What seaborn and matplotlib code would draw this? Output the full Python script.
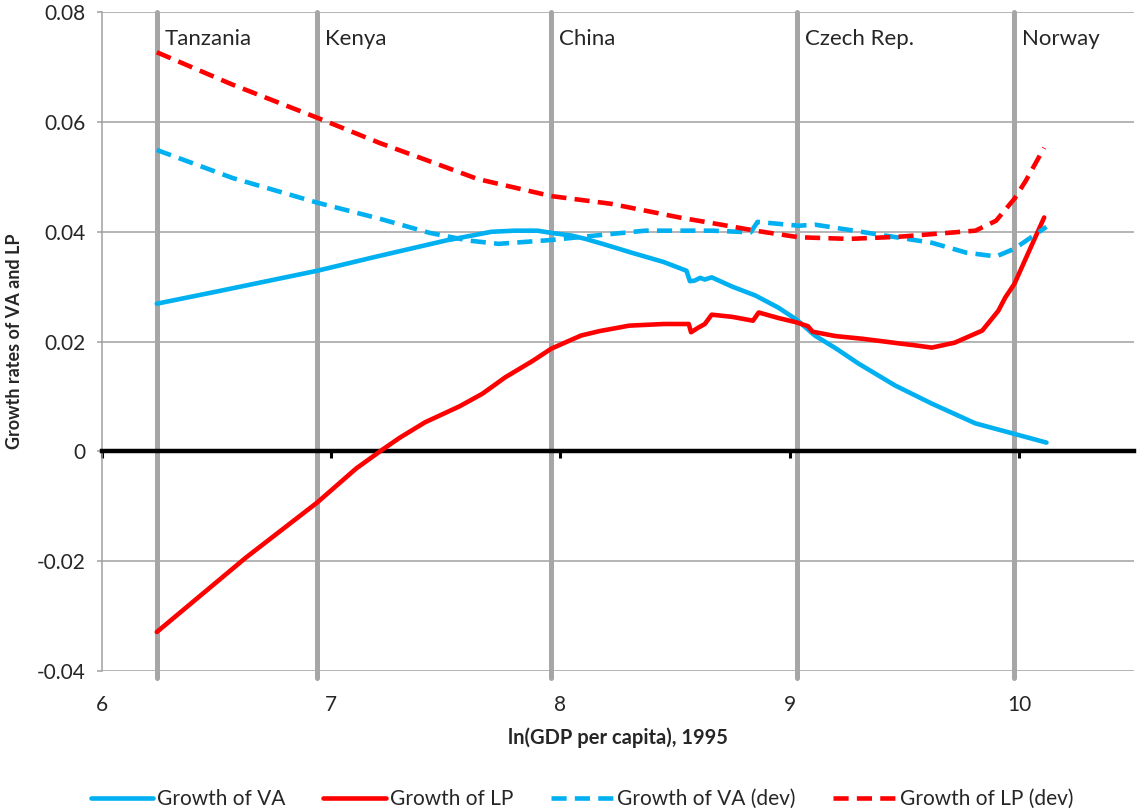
import pandas as pd
import matplotlib.pyplot as plt
import seaborn as sns

# Data
va_x = [6.24, 6.5, 6.94, 7.2, 7.5, 7.7, 7.8, 7.9, 7.96, 8.05, 8.11, 8.2, 8.31, 8.45, 8.55,
        8.565, 8.585, 8.61, 8.63, 8.66, 8.75, 8.85, 8.95, 9.03, 9.11, 9.2, 9.3, 9.46,
        9.62, 9.81, 9.97, 10.12]
va_y = [0.0269, 0.0291, 0.0329, 0.0355, 0.0384, 0.0400, 0.0402, 0.0402, 0.0398, 0.0393,
        0.0387, 0.0376, 0.0362, 0.0345, 0.0329, 0.0310, 0.0311, 0.0316, 0.0313, 0.0317,
        0.0300, 0.0284, 0.0262, 0.0240, 0.0211, 0.0188, 0.0160, 0.0120, 0.0087, 0.0051,
        0.0033, 0.0016]

lp_x = [6.24, 6.63, 6.94, 7.11, 7.22, 7.30, 7.41, 7.56, 7.66, 7.76, 7.88, 7.96, 8.09,
        8.17, 8.3, 8.45, 8.56, 8.57, 8.6, 8.63, 8.66, 8.75, 8.84, 8.865, 8.95, 9.03,
        9.08, 9.1, 9.2, 9.32, 9.49, 9.55, 9.62, 9.72, 9.84, 9.91, 9.94, 9.98, 10.11]
lp_y = [-0.0329, -0.0193, -0.0093, -0.0031, 0.0002, 0.0025, 0.0053, 0.0082, 0.0105,
        0.0135, 0.0165, 0.0187, 0.0211, 0.0219, 0.0229, 0.0232, 0.0232, 0.0217, 0.0225,
        0.0232, 0.0249, 0.0245, 0.0238, 0.0253, 0.0243, 0.0235, 0.0228, 0.0218, 0.0210,
        0.0205, 0.0196, 0.0193, 0.0189, 0.0198, 0.0220, 0.0256, 0.0280, 0.0305, 0.0426]

va_dev_x = [6.24, 6.57, 6.94, 7.21, 7.43, 7.6, 7.73, 7.96, 8.15, 8.37, 8.66, 8.83, 8.86,
            9.04, 9.11, 9.25, 9.48, 9.62, 9.77, 9.9, 9.98, 10.12]
va_dev_y = [0.0549, 0.0498, 0.0453, 0.0424, 0.0398, 0.0384, 0.0378, 0.0385, 0.0393,
            0.0402, 0.0402, 0.0399, 0.0418, 0.0411, 0.0413, 0.0404, 0.0389, 0.0380,
            0.0362, 0.0355, 0.0369, 0.0409]

lp_dev_x = [6.24, 6.57, 6.95, 7.21, 7.4, 7.64, 7.96, 8.22, 8.52, 8.7, 8.85, 9.04, 9.26,
            9.48, 9.81, 9.90, 9.98, 10.03, 10.11]
lp_dev_y = [0.0727, 0.0668, 0.0606, 0.0562, 0.0533, 0.0496, 0.0465, 0.0451, 0.0426,
            0.0413, 0.0402, 0.0390, 0.0387, 0.0391, 0.0402, 0.0420, 0.0460, 0.0493, 0.0553]

countries = ["Tanzania", "Kenya", "China", "Czech Rep.", "Norway"]
country_x = [6.24, 6.94, 7.96, 9.03, 9.98]

x_ticks = [6, 7, 8, 9, 10]
y_ticks = [-0.04, -0.02, 0, 0.02, 0.04, 0.06, 0.08]

BLUE = "#00B0F0"
RED = "#FF0000"
GRAY = "#A6A6A6"

sns.set_theme(style="white")
plt.rcParams["font.family"] = ["Lato", "DejaVu Sans"]

fig, ax = plt.subplots(figsize=(11.37, 8.10), dpi=100)
fig.subplots_adjust(left=0.0895, right=0.997, top=0.985, bottom=0.1716)

# horizontal gridlines
for yv in y_ticks:
    ax.axhline(yv, color="#A0A0A0", lw=1.1, zorder=0)

# country markers
for name, cx in zip(countries, country_x):
    ax.axvline(cx, color=GRAY, lw=3.6, zorder=1, ymin=-0.01, clip_on=False)
    ax.text(cx + 0.035, 0.0752, name, fontsize=16, ha="left", va="center")

lw = 3.3
dash = (3.3, 1.8)
sns.lineplot(x=va_x, y=va_y, ax=ax, color=BLUE, lw=lw, label="Growth of VA", zorder=3)
sns.lineplot(x=lp_x, y=lp_y, ax=ax, color=RED, lw=lw, label="Growth of LP", zorder=3)
sns.lineplot(x=va_dev_x, y=va_dev_y, ax=ax, color=BLUE, lw=lw, dashes=False,
             label="Growth of VA (dev)", zorder=3).lines[-1].set_dashes(dash)
sns.lineplot(x=lp_dev_x, y=lp_dev_y, ax=ax, color=RED, lw=lw, dashes=False,
             label="Growth of LP (dev)", zorder=3).lines[-1].set_dashes(dash)

ax.set_xlim(6, 10.5)
ax.set_ylim(-0.04, 0.08)
ax.set_yticks(y_ticks)
ax.set_yticklabels(["-0.04", "-0.02", "0", "0.02", "0.04", "0.06", "0.08"])

# black zero axis with tick marks, labels on a secondary axis at the bottom
ax.spines["bottom"].set_position(("data", 0))
ax.spines["bottom"].set_color("black")
ax.spines["bottom"].set_linewidth(3.2)
ax.spines["bottom"].set_zorder(2.5)
ax.set_xticks(x_ticks)
ax.tick_params(axis="x", direction="out", length=5, width=2.2, color="black",
               labelbottom=False, bottom=True)
ax.spines["left"].set_color("#A0A0A0")
ax.spines["left"].set_linewidth(1.1)
ax.spines["top"].set_visible(False)
ax.spines["right"].set_visible(False)
ax.tick_params(axis="y", direction="out", length=3.6, width=1.1, color="#A0A0A0",
               labelsize=15, pad=8, left=True)

sec = ax.secondary_xaxis("bottom")
sec.set_xticks(x_ticks)
sec.set_xticklabels([str(t) for t in x_ticks])
sec.tick_params(length=0, labelsize=15, pad=17)
sec.spines["bottom"].set_visible(False)
sec.set_xlabel("ln(GDP per capita), 1995", fontsize=14.5, fontweight="bold", labelpad=9)

ax.set_xlabel("")
ax.set_ylabel("Growth rates of VA and LP", fontsize=13, fontweight="bold", labelpad=10)

handles, labels = ax.get_legend_handles_labels()
ax.get_legend().remove()
fig.legend(handles, labels, loc="lower center", bbox_to_anchor=(0.512, -0.022), ncol=4,
           frameon=False, fontsize=15, handlelength=3.0, handletextpad=0.2,
           columnspacing=1.8)

plt.savefig("out.png", dpi=100)
plt.close()
